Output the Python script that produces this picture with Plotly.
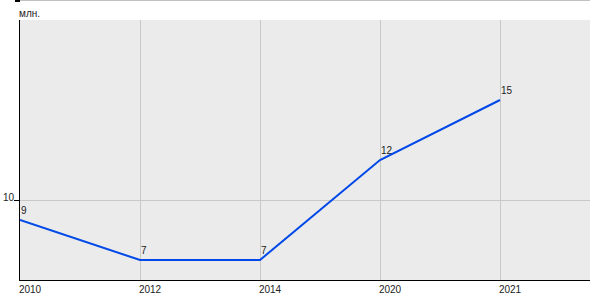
import plotly.graph_objects as go

years = ["2010", "2012", "2014", "2020", "2021"]
values = [9, 7, 7, 12, 15]
unit_label = "млн."

FONT = "Liberation Sans, Arial, sans-serif"

fig = go.Figure()
fig.add_trace(go.Scatter(
    x=years, y=values, mode="lines",
    line=dict(color="#0048e8", width=2),
    hoverinfo="skip", showlegend=False,
))

for i, v in enumerate(values):
    fig.add_annotation(
        x=i, y=v, text=str(v), showarrow=False,
        xanchor="left", yanchor="bottom", yshift=2, xshift=-1,
        font=dict(family=FONT, size=10, color="#222222"),
    )

fig.add_annotation(
    x=0, y=1, xref="paper", yref="paper", text=unit_label, showarrow=False,
    xanchor="left", yanchor="middle", xshift=-3, yshift=7,
    font=dict(family=FONT, size=10, color="#222222"),
)

# top border line and small black mark
fig.add_shape(type="line", xref="paper", yref="paper",
              x0=0, x1=1, y0=1 + 19.5 / 260, y1=1 + 19.5 / 260,
              line=dict(color="#c0c0c0", width=1))
fig.add_shape(type="line", xref="paper", yref="paper",
              x0=-5 / 570, x1=0, y0=1 + 19 / 260, y1=1 + 19 / 260,
              line=dict(color="#000000", width=2))

fig.update_layout(
    width=600, height=300,
    margin=dict(l=20, r=10, t=20, b=20, autoexpand=False),
    paper_bgcolor="white", plot_bgcolor="#ebebeb",
    font=dict(family=FONT, size=10, color="#222222"),
    xaxis=dict(
        type="category", range=[0, 4.75], automargin=False,
        showgrid=True, gridcolor="#c8c8c8", gridwidth=1,
        showline=True, linecolor="black", linewidth=1,
        ticks="", ticklabelshift=10, zeroline=False,
        tickfont=dict(family=FONT, size=10, color="#222222"),
    ),
    yaxis=dict(
        range=[6, 19], tickvals=[10], ticktext=["10"], automargin=False,
        showgrid=True, gridcolor="#c8c8c8", gridwidth=1,
        showline=True, linecolor="black", linewidth=1,
        ticks="outside", ticklen=5, tickcolor="black",
        ticklabelshift=-3, ticklabelstandoff=-2, zeroline=False,
        tickfont=dict(family=FONT, size=10, color="#222222"),
    ),
)

fig.write_html("out.html")
